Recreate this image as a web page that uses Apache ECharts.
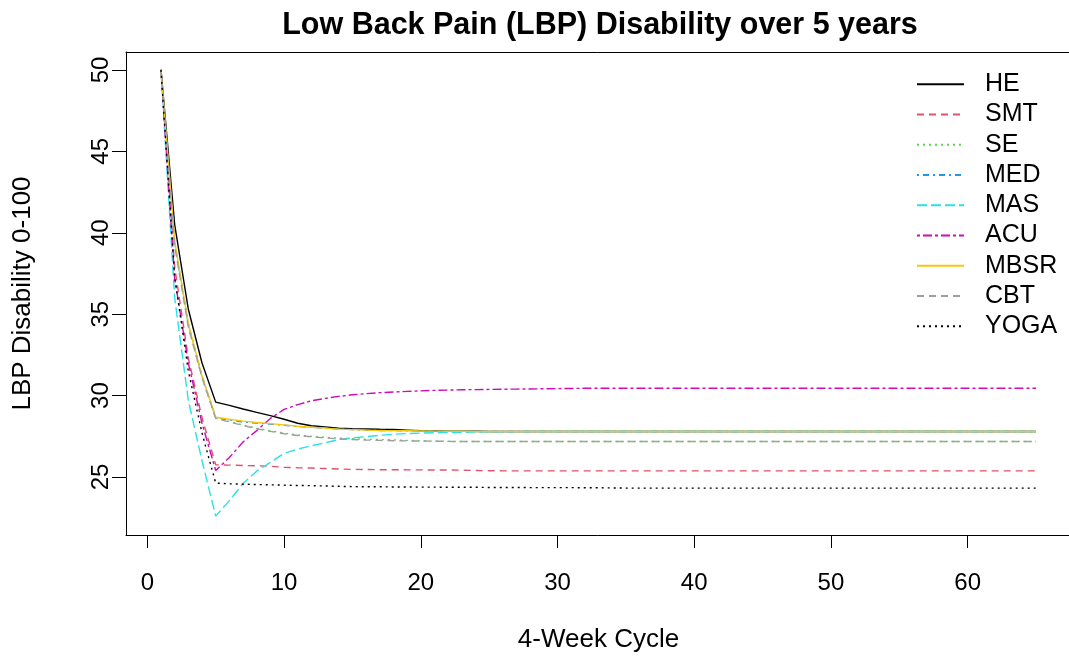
<!DOCTYPE html>
<html>
<head>
<meta charset="utf-8">
<title>Low Back Pain (LBP) Disability over 5 years</title>
<script src="https://cdn.jsdelivr.net/npm/echarts@6/dist/echarts.min.js"></script>
<style>
  html, body { margin: 0; padding: 0; background: #ffffff; }
  #chart { width: 1069px; height: 657px; }
</style>
</head>
<body>
<div id="chart"></div>
<script>
// 4-week cycles over five years
const cycles = [
  1, 2, 3, 4, 5, 6, 7, 8, 9, 10,
  11, 12, 13, 14, 15, 16, 17, 18, 19, 20,
  21, 22, 23, 24, 25, 26, 27, 28, 29, 30,
  31, 32, 33, 34, 35, 36, 37, 38, 39, 40,
  41, 42, 43, 44, 45, 46, 47, 48, 49, 50,
  51, 52, 53, 54, 55, 56, 57, 58, 59, 60,
  61, 62, 63, 64, 65
];

// Mean LBP disability (0-100) per cycle, one list per treatment
const HE = [
  50, 40.5, 35.3, 32.0, 29.6, 29.4, 29.18, 28.97, 28.77, 28.55,
  28.3, 28.15, 28.08, 28.0, 27.97, 27.95, 27.93, 27.92, 27.88, 27.84,
  27.83, 27.82, 27.81, 27.81, 27.8,
  27.8, 27.8, 27.8, 27.8, 27.8, 27.8, 27.8, 27.8, 27.8, 27.8,
  27.8, 27.8, 27.8, 27.8, 27.8, 27.8, 27.8, 27.8, 27.8, 27.8,
  27.8, 27.8, 27.8, 27.8, 27.8, 27.8, 27.8, 27.8, 27.8, 27.8,
  27.8, 27.8, 27.8, 27.8, 27.8, 27.8, 27.8, 27.8, 27.8, 27.8
];
const SMT = [
  50, 37.9, 32.3, 28.65, 25.75, 25.73, 25.71, 25.69, 25.66, 25.6,
  25.57, 25.55, 25.52, 25.49, 25.47, 25.46, 25.45, 25.45, 25.44, 25.44,
  25.43, 25.43, 25.42, 25.4, 25.39, 25.38,
  25.38, 25.38, 25.38, 25.38, 25.38, 25.38, 25.38, 25.38, 25.38, 25.38,
  25.38, 25.38, 25.38, 25.38, 25.38, 25.38, 25.38, 25.38, 25.38, 25.38,
  25.38, 25.38, 25.38, 25.38, 25.38, 25.38, 25.38, 25.38, 25.38, 25.38,
  25.38, 25.38, 25.38, 25.38, 25.38, 25.38, 25.38, 25.38, 25.38
];
const SE = [
  50, 39.3, 34.3, 31.1, 28.62, 28.42, 28.2, 28.0, 27.84, 27.7,
  27.58, 27.5, 27.44, 27.39, 27.35, 27.32, 27.3, 27.28, 27.25, 27.22,
  27.2, 27.19, 27.18,
  27.18, 27.18, 27.18, 27.18, 27.18, 27.18, 27.18, 27.18, 27.18, 27.18,
  27.18, 27.18, 27.18, 27.18, 27.18, 27.18, 27.18, 27.18, 27.18, 27.18,
  27.18, 27.18, 27.18, 27.18, 27.18, 27.18, 27.18, 27.18, 27.18, 27.18,
  27.18, 27.18, 27.18, 27.18, 27.18, 27.18, 27.18, 27.18, 27.18, 27.18,
  27.18, 27.18
];
const MED = [
  50, 39.4, 34.4, 31.2, 28.65, 28.5, 28.38, 28.31, 28.25, 28.18,
  28.1, 28.05, 28.0, 27.95, 27.91, 27.88, 27.86, 27.85, 27.84, 27.83,
  27.82, 27.81, 27.81, 27.8, 27.8,
  27.8, 27.8, 27.8, 27.8, 27.8, 27.8, 27.8, 27.8, 27.8, 27.8,
  27.8, 27.8, 27.8, 27.8, 27.8, 27.8, 27.8, 27.8, 27.8, 27.8,
  27.8, 27.8, 27.8, 27.8, 27.8, 27.8, 27.8, 27.8, 27.8, 27.8,
  27.8, 27.8, 27.8, 27.8, 27.8, 27.8, 27.8, 27.8, 27.8, 27.8
];
const MAS = [
  50, 36.0, 29.7, 26.0, 22.6, 23.55, 24.6, 25.36, 25.9, 26.45,
  26.72, 26.92, 27.1, 27.3, 27.4, 27.48, 27.56, 27.63, 27.67, 27.7,
  27.72, 27.74, 27.75, 27.76, 27.77, 27.78, 27.79, 27.8,
  27.8, 27.8, 27.8, 27.8, 27.8, 27.8, 27.8, 27.8, 27.8, 27.8,
  27.8, 27.8, 27.8, 27.8, 27.8, 27.8, 27.8, 27.8, 27.8, 27.8,
  27.8, 27.8, 27.8, 27.8, 27.8, 27.8, 27.8, 27.8, 27.8, 27.8,
  27.8, 27.8, 27.8, 27.8, 27.8, 27.8, 27.8
];
const ACU = [
  50, 37.2, 32.0, 28.3, 25.4, 26.2, 27.15, 27.85, 28.6, 29.15,
  29.45, 29.68, 29.83, 29.95, 30.05, 30.12, 30.18, 30.22, 30.26, 30.29,
  30.32, 30.34, 30.36, 30.37, 30.38, 30.39, 30.4, 30.41, 30.42, 30.43,
  30.44,
  30.45, 30.45, 30.45, 30.45, 30.45, 30.45, 30.45, 30.45, 30.45, 30.45,
  30.45, 30.45, 30.45, 30.45, 30.45, 30.45, 30.45, 30.45, 30.45, 30.45,
  30.45, 30.45, 30.45, 30.45, 30.45, 30.45, 30.45, 30.45, 30.45, 30.45,
  30.45, 30.45, 30.45, 30.45
];
const MBSR = [
  50, 39.5, 34.4, 31.2, 28.67, 28.55, 28.43, 28.35, 28.28, 28.2,
  28.12, 28.06, 28.0, 27.94, 27.91, 27.88, 27.86, 27.85, 27.84, 27.83,
  27.82, 27.81, 27.81, 27.8, 27.8,
  27.8, 27.8, 27.8, 27.8, 27.8, 27.8, 27.8, 27.8, 27.8, 27.8,
  27.8, 27.8, 27.8, 27.8, 27.8, 27.8, 27.8, 27.8, 27.8, 27.8,
  27.8, 27.8, 27.8, 27.8, 27.8, 27.8, 27.8, 27.8, 27.8, 27.8,
  27.8, 27.8, 27.8, 27.8, 27.8, 27.8, 27.8, 27.8, 27.8, 27.8
];
const CBT = [
  50, 39.2, 34.2, 31.1, 28.6, 28.38, 28.16, 27.97, 27.8, 27.66,
  27.55, 27.47, 27.4, 27.34, 27.3, 27.27, 27.25, 27.23, 27.22, 27.21,
  27.2, 27.19, 27.18,
  27.18, 27.18, 27.18, 27.18, 27.18, 27.18, 27.18, 27.18, 27.18, 27.18,
  27.18, 27.18, 27.18, 27.18, 27.18, 27.18, 27.18, 27.18, 27.18, 27.18,
  27.18, 27.18, 27.18, 27.18, 27.18, 27.18, 27.18, 27.18, 27.18, 27.18,
  27.18, 27.18, 27.18, 27.18, 27.18, 27.18, 27.18, 27.18, 27.18, 27.18,
  27.18, 27.18
];
const YOGA = [
  50, 37.3, 31.5, 27.7, 24.63, 24.58, 24.56, 24.54, 24.52, 24.5,
  24.48, 24.47, 24.45, 24.43, 24.41, 24.4, 24.4, 24.39, 24.39, 24.38,
  24.38, 24.37, 24.37, 24.37, 24.36, 24.36, 24.36, 24.35, 24.35, 24.35,
  24.35, 24.34, 24.34, 24.33,
  24.32, 24.32, 24.32, 24.32, 24.32, 24.32, 24.32, 24.32, 24.32, 24.32,
  24.32, 24.32, 24.32, 24.32, 24.32, 24.32, 24.32, 24.32, 24.32, 24.32,
  24.32, 24.32, 24.32, 24.32, 24.32, 24.32, 24.32, 24.32, 24.32, 24.32,
  24.32
];

// Axis tick positions
const xTicks = [0, 10, 20, 30, 40, 50, 60];
const yTicks = [25, 30, 35, 40, 45, 50];

const FONT = '"Liberation Sans", Arial, Helvetica, sans-serif';

// name, values, colour, dash pattern (null = solid)
const treatments = [
  ['HE',   HE,   '#000000', null],
  ['SMT',  SMT,  '#DF536B', [7, 5]],
  ['SE',   SE,   '#61D04F', [2, 4]],
  ['MED',  MED,  '#2297E6', [2, 4, 6, 4]],
  ['MAS',  MAS,  '#28E2E5', [10, 4]],
  ['ACU',  ACU,  '#CD0BBC', [3, 3, 9, 3]],
  ['MBSR', MBSR, '#F5C710', null],
  ['CBT',  CBT,  '#9E9E9E', [7, 5]],
  ['YOGA', YOGA, '#000000', [2, 4]]
];

const series = treatments.map(([name, vals, color, dash]) => ({
  name: name,
  type: 'line',
  xAxisIndex: 0,
  yAxisIndex: 0,
  data: cycles.map((c, i) => [c, vals[i]]),
  symbol: 'none',
  color: color,
  lineStyle: { color: color, width: 1.4, type: dash || 'solid' },
  emphasis: { disabled: true },
  animation: false
}));

const X_MIN = -1.56, X_MAX = 67.56;
const frame = { show: true, onZero: false, lineStyle: { color: '#000', width: 1 } };

const chart = echarts.init(document.getElementById('chart'), null, { renderer: 'canvas' });
chart.setOption({
  backgroundColor: '#ffffff',
  animation: false,
  title: {
    text: 'Low Back Pain (LBP) Disability over 5 years',
    left: 595,
    top: 5,
    textAlign: 'center',
    textStyle: { fontFamily: FONT, fontSize: 30.5, fontWeight: 'bold', color: '#000' }
  },
  legend: {
    orient: 'vertical',
    left: 916,
    top: 69,
    padding: 0,
    itemWidth: 47,
    itemHeight: 14,
    itemGap: 0,
    itemStyle: { opacity: 0 },
    data: treatments.map(t => t[0]),
    textStyle: {
      fontFamily: FONT, fontSize: 25, color: '#000',
      lineHeight: 30.25, padding: [0, 0, 0, 16]
    },
    selectedMode: false
  },
  grid: {
    left: 126, top: 52, width: 945, height: 483,
    show: false, containLabel: false, outerBoundsMode: 'none'
  },
  xAxis: [
    {
      type: 'value',
      position: 'bottom',
      min: X_MIN,
      max: X_MAX,
      name: '4-Week Cycle',
      nameLocation: 'middle',
      nameGap: 92,
      nameTextStyle: { fontFamily: FONT, fontSize: 26, color: '#000' },
      axisLine: frame,
      splitLine: { show: false },
      axisTick: { show: true, length: 13, lineStyle: { color: '#000', width: 1 }, customValues: xTicks },
      axisLabel: { fontFamily: FONT, fontSize: 24, color: '#000', margin: 36, customValues: xTicks }
    },
    {
      // top edge of the plot frame
      type: 'value',
      position: 'top',
      min: X_MIN,
      max: X_MAX,
      axisLine: frame,
      axisTick: { show: false },
      axisLabel: { show: false },
      splitLine: { show: false }
    }
  ],
  yAxis: {
    type: 'value',
    position: 'left',
    min: 21.44,
    max: 51.1,
    name: 'LBP Disability 0-100',
    nameLocation: 'middle',
    nameGap: 90,
    nameRotate: 90,
    nameTextStyle: { fontFamily: FONT, fontSize: 26, color: '#000' },
    axisLine: frame,
    splitLine: { show: false },
    axisTick: { show: true, length: 14, lineStyle: { color: '#000', width: 1 }, customValues: yTicks },
    axisLabel: { fontFamily: FONT, fontSize: 24, color: '#000', margin: 13, rotate: 90, customValues: yTicks }
  },
  series: series
});
</script>
</body>
</html>
